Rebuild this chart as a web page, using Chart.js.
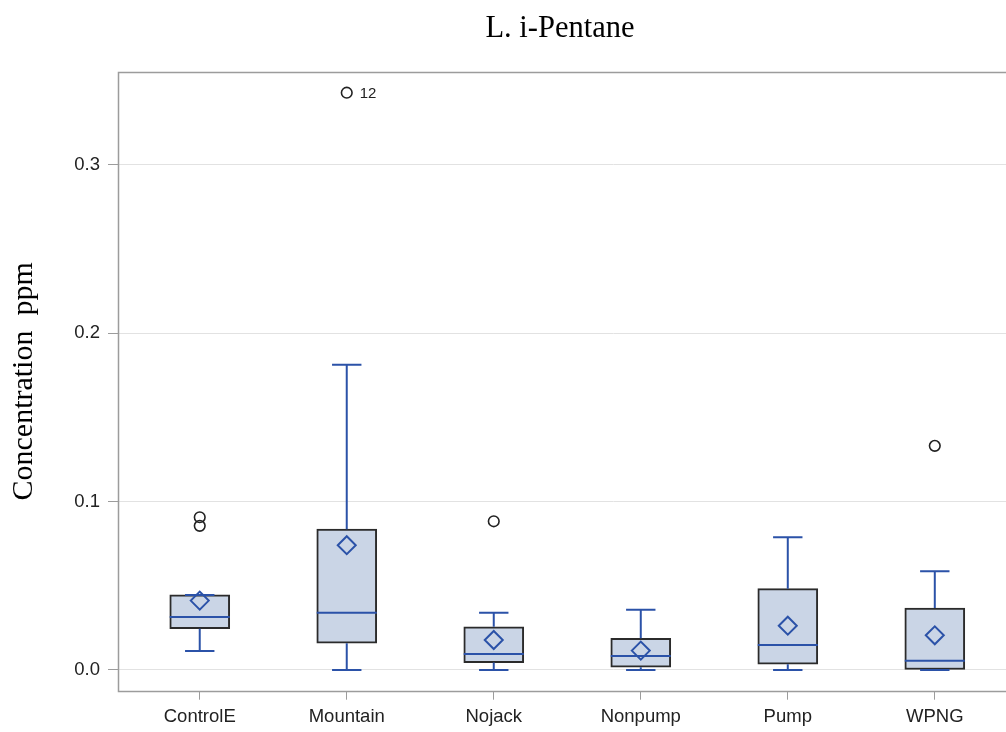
<!DOCTYPE html>
<html><head><meta charset="utf-8">
<script src="https://cdn.jsdelivr.net/npm/chart.js@4"></script>
<style>html,body{margin:0;padding:0;overflow:hidden;background:#fff}#wrap{position:relative;width:1120px;height:732px}</style>
</head><body><div id="wrap"><canvas id="c"></canvas></div>
<script>
// ---- data ----
const categories = ['ControlE', 'Mountain', 'Nojack', 'Nonpump', 'Pump', 'WPNG'];
const q1 = [0.0245, 0.0159, 0.0044, 0.0016, 0.0034, 0.0];
const median = [0.0315, 0.0340, 0.0095, 0.0083, 0.0149, 0.0055];
const q3 = [0.0446, 0.0836, 0.0257, 0.0188, 0.0483, 0.0368];
const whiskerLow = [0.0113, 0.0, 0.0, 0.0, 0.0, 0.0];
const whiskerHigh = [0.0446, 0.1812, 0.0340, 0.0358, 0.0788, 0.0586];
const means = [0.0412, 0.0741, 0.0178, 0.0115, 0.0263, 0.0206];
const outlierCategory = [0, 0, 1, 2, 5];
const outlierValue = [0.0907, 0.0856, 0.3428, 0.0883, 0.1331];
const outlierLabel = ['', '', '12', '', ''];
const yTicks = [0.0, 0.1, 0.2, 0.3];

// ---- styles ----
const BOX_HALF = 0.204, CAP_HALF = 0.1;
const BLUE = '#2b52a8';
const SANS = "'Liberation Sans', Arial, sans-serif";
const SERIF = "'Liberation Serif', 'Times New Roman', serif";

const boxData = categories.map((c, i) => ({ x: i, y: [q1[i], q3[i]] }));
const whiskerData = [];
categories.forEach((c, i) => {
  whiskerData.push(
    { x: i, y: q3[i] }, { x: i, y: whiskerHigh[i] }, { x: i, y: null },
    { x: i - CAP_HALF, y: whiskerHigh[i] }, { x: i + CAP_HALF, y: whiskerHigh[i] }, { x: i, y: null },
    { x: i, y: q1[i] }, { x: i, y: whiskerLow[i] }, { x: i, y: null },
    { x: i - CAP_HALF, y: whiskerLow[i] }, { x: i + CAP_HALF, y: whiskerLow[i] }, { x: i, y: null }
  );
});
const medianData = [];
categories.forEach((c, i) => {
  medianData.push({ x: i - BOX_HALF, y: median[i] }, { x: i + BOX_HALF, y: median[i] }, { x: i, y: null });
});
const meanData = categories.map((c, i) => ({ x: i, y: means[i] }));
const outlierData = outlierValue.map((v, k) => ({ x: outlierCategory[k], y: v }));

const framePlugin = {
  id: 'frame',
  beforeDatasetsDraw(chart) {
    const { left, top, right, bottom } = chart.chartArea;
    const ctx = chart.ctx;
    ctx.save();
    ctx.strokeStyle = '#9c9c9c';
    ctx.lineWidth = 1.5;
    ctx.strokeRect(Math.round(left) + 0.5, Math.round(top) + 0.5, Math.round(right - left) - 1, Math.round(bottom - top));
    ctx.restore();
  },
  afterDatasetsDraw(chart) {
    const meta = chart.getDatasetMeta(4);
    const ctx = chart.ctx;
    ctx.save();
    ctx.fillStyle = '#222';
    ctx.font = "15px " + SANS;
    ctx.textBaseline = 'middle';
    ctx.textAlign = 'left';
    outlierLabel.forEach((t, k) => {
      if (!t) return;
      const p = meta.data[k];
      ctx.fillText(t, p.x + 13, p.y + 1);
    });
    ctx.restore();
  }
};

new Chart(document.getElementById('c'), {
  type: 'bar',
  data: {
    datasets: [
      { type: 'bar', data: boxData, backgroundColor: '#cad5e6', borderColor: '#2b2b2b', borderWidth: 2,
        borderSkipped: false, barThickness: 60, grouped: false, order: 5 },
      { type: 'line', data: whiskerData, borderColor: BLUE, borderWidth: 2, pointRadius: 0,
        spanGaps: false, fill: false, tension: 0, order: 4 },
      { type: 'line', data: medianData, borderColor: BLUE, borderWidth: 2, pointRadius: 0,
        spanGaps: false, fill: false, tension: 0, order: 3 },
      { type: 'scatter', data: meanData, pointStyle: 'rectRot', pointRadius: 9, borderColor: BLUE,
        borderWidth: 2, backgroundColor: 'rgba(0,0,0,0)', order: 2 },
      { type: 'scatter', data: outlierData, pointStyle: 'circle', pointRadius: 5.3, borderColor: '#222',
        borderWidth: 1.6, backgroundColor: 'rgba(0,0,0,0)', order: 1 }
    ]
  },
  options: {
    responsive: true,
    maintainAspectRatio: false,
    animation: false,
    events: [],
    layout: { padding: { left: 0, top: 0, right: 0, bottom: 0 } },
    plugins: {
      legend: { display: false },
      tooltip: { enabled: false },
      title: {
        display: true, text: 'L. i-Pentane', color: '#000',
        font: { family: SERIF, size: 30.5, weight: 'normal' },
        padding: { top: 11, bottom: 24.4 }
      }
    },
    scales: {
      x: {
        type: 'linear', min: -0.556, max: 6.185, offset: false,
        afterBuildTicks: axis => { axis.ticks = categories.map((c, i) => ({ value: i })); },
        afterFit: axis => { axis.height = 41.3; },
        ticks: { callback: v => categories[v], autoSkip: false, maxRotation: 0, color: '#222',
          font: { family: SANS, size: 18.5 }, padding: 6.6 },
        grid: { drawOnChartArea: false, drawTicks: true, tickLength: 9, tickColor: '#9c9c9c', offset: false },
        border: { display: false }
      },
      y: {
        type: 'linear', min: -0.0123, max: 0.3551,
        afterBuildTicks: axis => { axis.ticks = yTicks.map(v => ({ value: v })); },
        afterFit: axis => { axis.width = 118; },
        ticks: { callback: v => v.toFixed(1), color: '#222', font: { family: SANS, size: 18.5 }, padding: 8 },
        grid: { color: '#e2e2e2', lineWidth: 1, tickLength: 10, tickColor: '#9c9c9c' },
        border: { display: false },
        title: { display: true, text: 'Concentration  ppm', color: '#000',
          font: { family: SERIF, size: 30, weight: 'normal' }, padding: { top: 6, bottom: 0 } }
      }
    }
  },
  plugins: [framePlugin]
});
</script>
</body></html>
